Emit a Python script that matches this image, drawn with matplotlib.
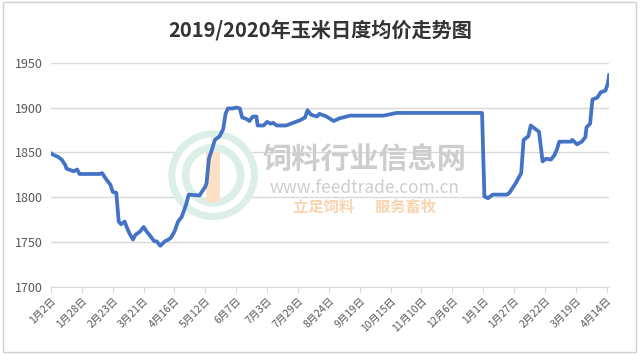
import matplotlib
matplotlib.use("Agg")
import matplotlib.pyplot as plt
from matplotlib.patches import Ellipse, Rectangle
import pandas as pd

plt.rcParams['font.family'] = ['Noto Sans CJK SC', 'DejaVu Sans']

# daily average corn price
dates = ["2019-01-02", "2019-01-03", "2019-01-08", "2019-01-11", "2019-01-14", "2019-01-15",
         "2019-01-19", "2019-01-21", "2019-01-24", "2019-01-26", "2019-02-12", "2019-02-14",
         "2019-02-17", "2019-02-21", "2019-02-23", "2019-02-26", "2019-02-28", "2019-03-02",
         "2019-03-05", "2019-03-07", "2019-03-09", "2019-03-12", "2019-03-14", "2019-03-18",
         "2019-03-21", "2019-03-24", "2019-03-26", "2019-03-30", "2019-04-01", "2019-04-04",
         "2019-04-08", "2019-04-11", "2019-04-13", "2019-04-16", "2019-04-19", "2019-04-22",
         "2019-04-25", "2019-04-26", "2019-04-28", "2019-05-07", "2019-05-09", "2019-05-12",
         "2019-05-13", "2019-05-15", "2019-05-17", "2019-05-20", "2019-05-24", "2019-05-27",
         "2019-05-29", "2019-05-31", "2019-06-04", "2019-06-07", "2019-06-10", "2019-06-12",
         "2019-06-16", "2019-06-18", "2019-06-21", "2019-06-24", "2019-06-25", "2019-06-30",
         "2019-07-03", "2019-07-06", "2019-07-08", "2019-07-11", "2019-07-19", "2019-07-25",
         "2019-07-31", "2019-08-04", "2019-08-06", "2019-08-09", "2019-08-14", "2019-08-16",
         "2019-08-22", "2019-08-28", "2019-09-02", "2019-09-11", "2019-10-09", "2019-10-20",
         "2019-12-31", "2020-01-02", "2020-01-05", "2020-01-09", "2020-01-21", "2020-01-23",
         "2020-01-28", "2020-02-02", "2020-02-04", "2020-02-08", "2020-02-10", "2020-02-13",
         "2020-02-17", "2020-02-20", "2020-02-23", "2020-02-27", "2020-03-01", "2020-03-03",
         "2020-03-05", "2020-03-15", "2020-03-16", "2020-03-20", "2020-03-24", "2020-03-27",
         "2020-03-28", "2020-03-31", "2020-04-02", "2020-04-06", "2020-04-09", "2020-04-13",
         "2020-04-15", "2020-04-16"]
prices = [1849, 1848, 1845, 1842, 1836, 1832,
          1830, 1829, 1831, 1826, 1826, 1827,
          1821, 1814, 1806, 1805, 1773, 1770,
          1773, 1766, 1760, 1753, 1758, 1762,
          1767, 1761, 1758, 1751, 1751, 1746,
          1751, 1753, 1755, 1762, 1773, 1778,
          1789, 1793, 1803, 1802, 1806, 1812,
          1816, 1843, 1851, 1864, 1868, 1876,
          1893, 1899, 1899, 1900, 1899, 1889,
          1887, 1885, 1890, 1890, 1880, 1880,
          1884, 1882, 1883, 1880, 1880, 1883,
          1886, 1889, 1897, 1892, 1890, 1893,
          1890, 1885, 1888, 1891, 1891, 1894,
          1894, 1801, 1799, 1803, 1803, 1805,
          1815, 1827, 1864, 1868, 1880, 1877,
          1873, 1840, 1843, 1842, 1847, 1853,
          1862, 1862, 1864, 1859, 1862, 1867,
          1878, 1882, 1909, 1911, 1917, 1919,
          1927, 1936]

tick_dates = ["2019-01-02", "2019-01-28", "2019-02-23", "2019-03-21", "2019-04-16",
              "2019-05-12", "2019-06-07", "2019-07-03", "2019-07-29", "2019-08-24",
              "2019-09-19", "2019-10-15", "2019-11-10", "2019-12-06", "2020-01-01",
              "2020-01-27", "2020-02-22", "2020-03-19", "2020-04-14"]

x = pd.to_datetime(dates)
ticks = pd.to_datetime(tick_dates)

fig = plt.figure(figsize=(6.4, 3.54), dpi=100)
fig.patches.append(Rectangle((0.004, 0.006), 0.99, 0.988, transform=fig.transFigure,
                             fill=False, edgecolor="#d0d0d0", linewidth=1))
ax = fig.add_axes([0.0797, 0.189, 0.872, 0.634])

# watermark (logo rings + site name)
for w, c in [(0.14, "#dcefe6"), (0.118, "#ffffff"), (0.098, "#dcefe6"), (0.074, "#ffffff")]:
    ax.add_patch(Ellipse((0.333, 0.505), w, w * 640 / 354, transform=fig.transFigure,
                         facecolor=c, edgecolor="none", zorder=1))
ax.add_patch(Rectangle((0.322, 0.43), 0.022, 0.14, transform=fig.transFigure,
                       facecolor="#fce0c6", edgecolor="none", zorder=1))
ax.text(0.57, 0.548, "饲料行业信息网", transform=fig.transFigure, fontsize=21,
        fontweight="bold", color="#cdcdcd", ha="center", va="center", zorder=1)
ax.text(0.57, 0.468, "www.feedtrade.com.cn", transform=fig.transFigure, fontsize=12.5,
        color="#cdcdcd", ha="center", va="center", zorder=1)
ax.text(0.57, 0.415, "立足饲料      服务畜牧", transform=fig.transFigure, fontsize=11,
        fontweight="bold", style="italic", color="#fad3af", ha="center", va="center", zorder=1)

ax.plot(x, prices, color="#4472C4", linewidth=2.7, solid_joinstyle="round", zorder=3)

ax.set_ylim(1700, 1950)
ax.set_yticks([1700, 1750, 1800, 1850, 1900, 1950])
ax.set_xlim(pd.Timestamp("2019-01-02"), pd.Timestamp("2020-04-16"))
ax.set_xticks(ticks)
ax.set_xticklabels([f"{d.month}月{d.day}日" for d in ticks], rotation=45,
                   ha="right", rotation_mode="anchor", fontsize=7.5, color="#595959")
ax.tick_params(axis="y", length=0, labelsize=9, labelcolor="#595959", pad=6)
ax.tick_params(axis="x", length=4, color="#d9d9d9", pad=2)
ax.grid(axis="y", color="#d9d9d9", linewidth=1)
ax.set_axisbelow(True)
for s in ["top", "right", "left"]:
    ax.spines[s].set_visible(False)
ax.spines["bottom"].set_color("#d9d9d9")

fig.text(0.5, 0.915, "2019/2020年玉米日度均价走势图", ha="center", va="center",
         fontsize=14.5, fontweight="bold", color="#333333")

fig.savefig("out.png", dpi=100)
